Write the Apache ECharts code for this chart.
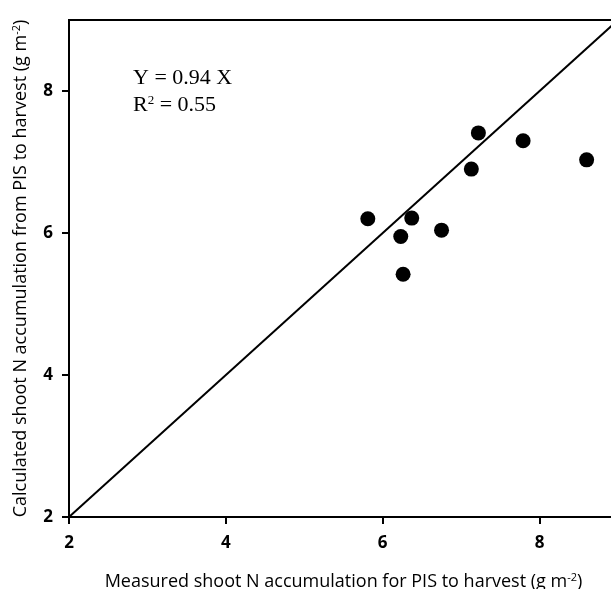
<!DOCTYPE html>
<html><head><meta charset="utf-8">
<script src="https://cdn.jsdelivr.net/npm/echarts@6/dist/echarts.min.js"></script>
<style>html,body{margin:0;padding:0;background:#fff}#c{width:611px;height:589px}</style>
</head><body><div id="c"></div>
<script>
const measured = [5.81, 6.37, 6.23, 6.26, 6.75, 7.13, 7.22, 7.79, 8.60];
const calculated = [6.20, 6.21, 5.95, 5.42, 6.04, 6.90, 7.41, 7.30, 7.03];
const lineX = [2, 9];
const lineY = [2, 9];
const xTicks = [2, 4, 6, 8];
const yTicks = [2, 4, 6, 8];

const chart = echarts.init(document.getElementById('c'));
function axis(ticks, margin, extra) {
  return Object.assign({
    type: 'value', min: 2, max: 9, interval: 2,
    axisLine: {show: true, lineStyle: {color: '#000', width: 2}},
    axisTick: {show: true, inside: false, length: 7, lineStyle: {color: '#000', width: 2},
      customValues: ticks},
    splitLine: {show: false},
    axisLabel: {color: '#000', fontFamily: 'Open Sans', fontWeight: 'bold', fontSize: 17,
      customValues: ticks, margin: margin}
  }, extra);
}
const supStyle = {fontSize: 11, verticalAlign: 'top', padding: [0,0,8,0], color: '#000', fontFamily: 'Open Sans'};
chart.setOption({
  animation: false,
  grid: {left: 69, top: 20, width: 549, height: 497, outerBoundsMode: 'none', containLabel: false,
    show: true, borderColor: '#000', borderWidth: 2, backgroundColor: 'transparent'},
  xAxis: axis(xTicks, 18, {
    name: 'Measured shoot N accumulation for PIS to harvest (g m{sup|-2})',
    nameLocation: 'middle', nameGap: 55,
    nameTextStyle: {color: '#000', fontFamily: 'Open Sans', fontSize: 18, rich: {sup: supStyle}}
  }),
  yAxis: axis(yTicks, 16, {
    name: 'Calculated shoot N accumulation from PIS to harvest (g m{sup|-2})',
    nameLocation: 'middle', nameGap: 39,
    nameTextStyle: {color: '#000', fontFamily: 'Open Sans', fontSize: 18, rich: {sup: supStyle}}
  }),
  graphic: [
    {type: 'text', left: 133, top: 67, style: {text: 'Y = 0.94 X', font: '22px "Liberation Serif"', fill: '#000'}},
    {type: 'text', left: 133, top: 94, style: {text: 'R{s|2} = 0.55', font: '22px "Liberation Serif"', fill: '#000',
      rich: {s: {fontSize: 13, fontFamily: 'Liberation Serif', verticalAlign: 'top', padding: [0,0,10,0], fill: '#000'}}}}
  ],
  series: [
    {type: 'line', data: lineX.map((x, i) => [x, lineY[i]]), symbol: 'none',
      lineStyle: {color: '#000', width: 2}, silent: true, clip: true},
    {type: 'scatter', data: measured.map((x, i) => [x, calculated[i]]), symbolSize: 15,
      itemStyle: {color: '#000', opacity: 1}}
  ]
});
</script></body></html>
